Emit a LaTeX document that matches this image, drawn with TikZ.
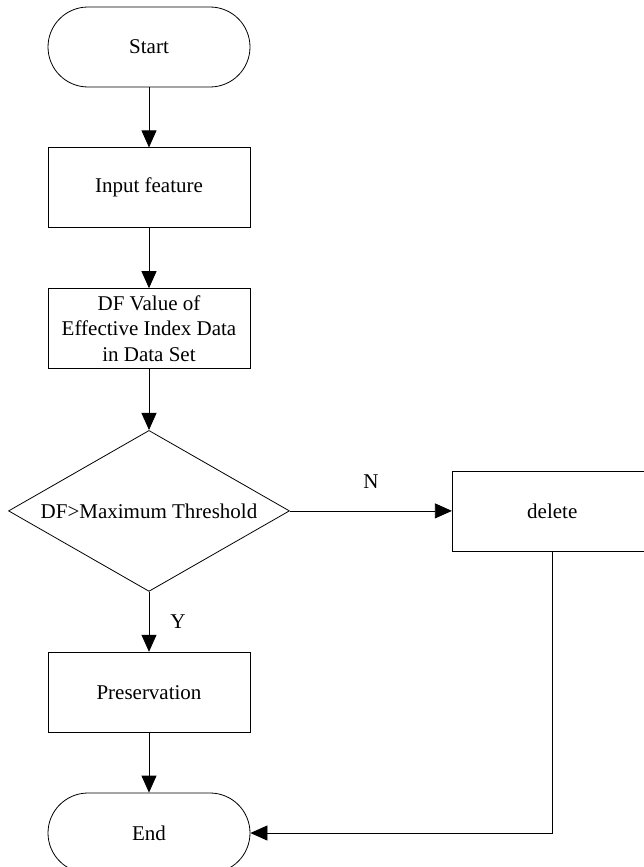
\documentclass[tikz,border=0pt]{standalone}
\usepackage{fontspec}
\setmainfont{Liberation Serif}
\usetikzlibrary{positioning,arrows.meta,shapes.geometric}

\tikzset{
  flow/.style={draw, line width=0.8pt, minimum width=202pt, minimum height=80pt, inner sep=2pt, align=center},
  term/.style={flow, rounded corners=40pt},
  decide/.style={draw, line width=0.8pt, diamond, aspect=1.745, minimum width=281pt, minimum height=161pt, inner sep=0pt},
  arr/.style={line width=0.8pt, -{Triangle[length=17pt,width=15pt]}}
}

\begin{document}
\begin{tikzpicture}[x=1pt, y=1pt, node distance=60pt, font=\fontsize{21}{25.5}\selectfont]
  \useasboundingbox (0,0) rectangle (643,-867);
  %% main column
  \node[term] (start) at (149,-47) {Start};
  \node[flow, below=of start] (input) {Input feature};
  \node[flow, below=of input] (dfvalue) {DF Value of\\Effective Index Data\\in Data Set};
  \node[decide, below=61pt of dfvalue] (check) {DF>Maximum Threshold};
  \node[flow, below=of check] (keep) {Preservation};
  \node[term, below=of keep] (end) {End};
  %% N branch
  \node[flow, minimum width=200pt, right=162pt of check] (delete) {delete};

  \draw[arr] (start) -- (input);
  \draw[arr] (input) -- (dfvalue);
  \draw[arr] (dfvalue) -- (check);
  \draw[arr] (check) -- node[midway, yshift=29pt] {N} (delete);
  \draw[arr] (check) -- node[midway, xshift=29pt] {Y} (keep);
  \draw[arr] (keep) -- (end);
  \draw[arr] (delete.south) |- (end.east);
\end{tikzpicture}
\end{document}
